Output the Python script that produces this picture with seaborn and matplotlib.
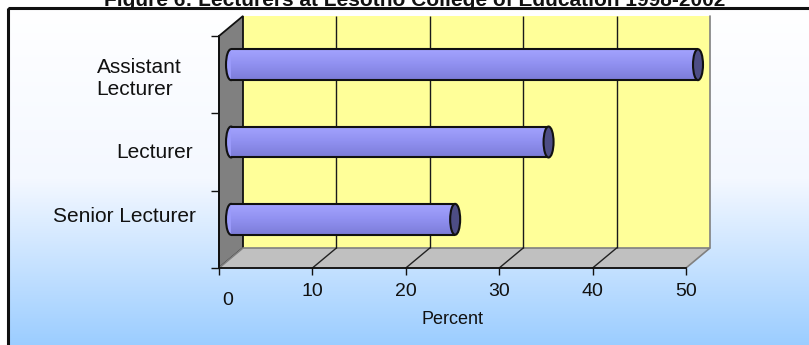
import numpy as np
import pandas as pd
import matplotlib
matplotlib.use('Agg')
import matplotlib.pyplot as plt
import matplotlib.transforms as mtransforms
from matplotlib.colors import LinearSegmentedColormap
from matplotlib.patches import Polygon, Ellipse, Rectangle
import seaborn as sns

# data
ranks = ['Assistant\nLecturer', 'Lecturer', 'Senior Lecturer']
percent = [50, 34, 24]
x_ticks = [0, 10, 20, 30, 40, 50]
title = 'Figure 6: Lecturers at Lesotho College of Education 1998-2002'

sns.set_theme(style='white')
plt.rcParams['font.family'] = ['Liberation Sans', 'DejaVu Sans']

W, H = 809, 345
fig = plt.figure(figsize=(W / 100, H / 100), dpi=100)
fig.patch.set_facecolor('white')

def fx(px): return px / W
def fy(py): return 1 - py / H

# geometry of the fake 3d box (pixels); bars sit on the middle plane
PL, PR, PT, PB = 231, 698, 26, 258
DX, DY = 12, 10
XMAX = x_ticks[-1]
scale = (PR - PL) / XMAX

# background panel with gradient + frame
bg = fig.add_axes([0, 0, 1, 1], zorder=0)
bg.set_xlim(0, W); bg.set_ylim(H, 0); bg.axis('off')
bg_cmap = LinearSegmentedColormap.from_list('bg', ['#ffffff', '#f4f8ff', '#99ccff'])
bg.imshow(np.linspace(0, 1, 256).reshape(-1, 1), cmap=bg_cmap, aspect='auto',
          extent=(8, W + 10, H + 5, 8), zorder=0)
bg.add_patch(Rectangle((8, 8), W + 10, H + 10, fill=False, ec='#111111', lw=2.2, zorder=1))

# walls and floor
bl, br, bt, bb = PL + DX, PR + DX, PT - DY, PB - DY
fl, fr, ft, fb = PL - DX, PR - DX, PT + DY, PB + DY
bg.add_patch(Polygon([(bl, bt), (br, bt), (br, bb), (bl, bb)], closed=True,
                     fc='#ffff99', ec='none', zorder=2))
bg.plot([br, br], [bt, bb], color='#808080', lw=1.2, zorder=3)
bg.add_patch(Polygon([(fl, ft), (bl, bt), (bl, bb), (fl, fb)], closed=True,
                     fc='#808080', ec='#111111', lw=1.3, zorder=3))
bg.add_patch(Polygon([(fl, fb), (bl, bb), (br, bb), (fr, fb)], closed=True,
                     fc='#c0c0c0', ec='#808080', lw=1.2, zorder=3))
for v in x_ticks[1:-1]:
    bg.plot([fl + v * scale, bl + v * scale], [fb, bb], color='#222222', lw=1, zorder=4)

# bar plane
ax = fig.add_axes([fx(PL), fy(PB), (PR - PL) / W, (PB - PT) / H], zorder=2)
ax.patch.set_alpha(0)
sns.barplot(x=percent, y=ranks, orient='h', width=0.4, color='#9494f5', ax=ax)
ax.set_xlim(0, XMAX)
ax.set_ylim(len(ranks) - 0.5, -0.5)

# gridlines on the back wall
back = mtransforms.offset_copy(ax.get_xaxis_transform(), fig=fig, x=DX, y=DY, units='dots')
ax.vlines(x_ticks[1:-1], 0, 1, transform=back, colors='#1a1a1a', lw=1, zorder=1, clip_on=False)

# cylinder look for each bar
bar_cmap = LinearSegmentedColormap.from_list('bar', ['#a3a3ff', '#9090f0', '#7c7cd8'])
cap_w = 10 / scale
for p in list(ax.patches):
    x, y, w, h = p.get_x(), p.get_y(), p.get_width(), p.get_height()
    p.set_edgecolor('none')
    p.set_zorder(3)
    ax.add_patch(Ellipse((x, y + h / 2), cap_w, h, fc='#9a9afa', ec='#111111', lw=1.5,
                         zorder=2.5, clip_on=False))
    im = ax.imshow(np.linspace(0, 1, 64).reshape(-1, 1), cmap=bar_cmap, aspect='auto',
                   extent=(x, x + w, y + h, y), zorder=3.2)
    im.set_clip_path(p)
    ax.hlines([y, y + h], x, x + w, colors='#111111', lw=1.5, zorder=4)
    ax.add_patch(Ellipse((x + w, y + h / 2), cap_w, h, fc='#4d4d85', ec='#111111', lw=1.5,
                         zorder=5, clip_on=False))
ax.set_xlim(0, XMAX)
ax.set_ylim(len(ranks) - 0.5, -0.5)
ax.set_aspect('auto')

ax.set_xticks([])
ax.set_xlabel('')
ax.set_ylabel('')
for s in ax.spines.values():
    s.set_visible(False)
ax.tick_params(axis='y', length=0, pad=25, labelsize=15, labelcolor='#111111')
label_shift = [(-15, 10), (-3, 8), (0, -5)]
for lbl, (dx, dy) in zip(ax.get_yticklabels(), label_shift):
    lbl.set_multialignment('left')
    lbl.set_transform(lbl.get_transform() + mtransforms.ScaledTranslation(dx / 100, -dy / 100, fig.dpi_scale_trans))

# front axis with ticks
axf = fig.add_axes([fx(fl), fy(fb), (fr - fl) / W, (fb - ft) / H], zorder=3)
axf.patch.set_alpha(0)
axf.set_xlim(0, XMAX)
axf.set_ylim(0, len(ranks))
axf.set_xticks(x_ticks)
axf.set_yticks(range(len(ranks) + 1))
axf.set_yticklabels([])
for side in ['top', 'right']:
    axf.spines[side].set_visible(False)
for side in ['left', 'bottom']:
    axf.spines[side].set_color('#111111')
    axf.spines[side].set_linewidth(1.3)
axf.tick_params(axis='x', direction='out', length=5, width=1, color='#111111',
                labelsize=14, labelcolor='#111111', pad=6, bottom=True)
axf.tick_params(axis='y', direction='out', length=6, width=1, color='#111111', left=True)
first = axf.get_xticklabels()[0]
first.set_transform(first.get_transform() + mtransforms.ScaledTranslation(0.09, -0.09, fig.dpi_scale_trans))
axf.set_xlabel('Percent', fontsize=13, color='#111111', labelpad=1)

fig.text(fx(415), fy(6), title, ha='center', va='baseline', fontsize=15,
         fontweight='bold', color='#111111')

fig.savefig('out.png', dpi=100)
